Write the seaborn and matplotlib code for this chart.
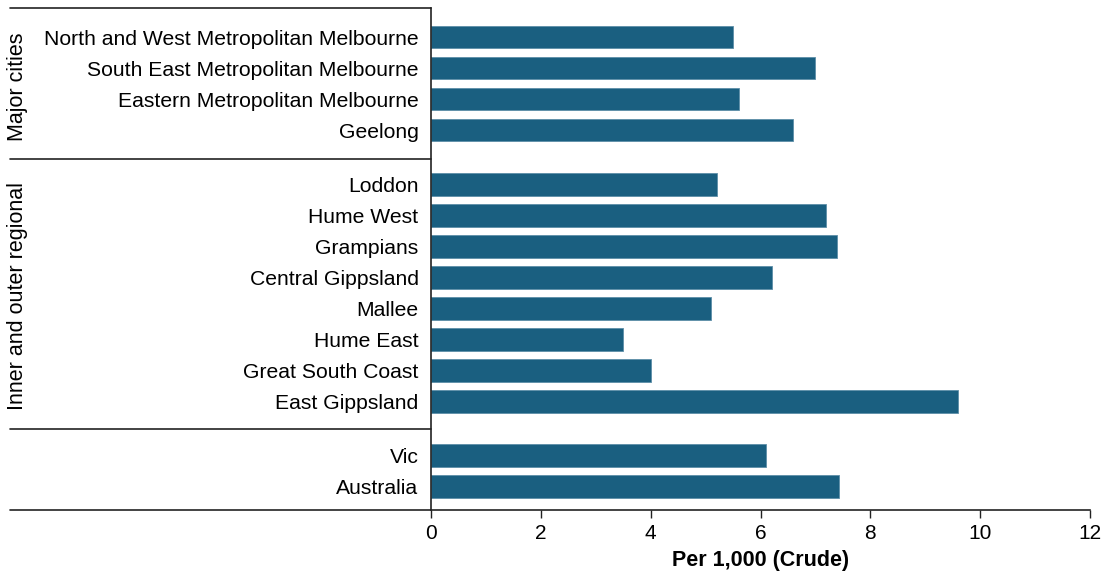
import pandas as pd
import seaborn as sns
import matplotlib.pyplot as plt
import matplotlib.transforms as mtransforms

regions = ["North and West Metropolitan Melbourne", "South East Metropolitan Melbourne",
           "Eastern Metropolitan Melbourne", "Geelong",
           "Loddon", "Hume West", "Grampians", "Central Gippsland", "Mallee",
           "Hume East", "Great South Coast", "East Gippsland",
           "Vic", "Australia"]
rates = [5.5, 7.0, 5.6, 6.6,
         5.2, 7.2, 7.4, 6.2, 5.1, 3.5, 4.0, 9.6,
         6.1, 7.43]
groups = [0, 0, 0, 0,
          1, 1, 1, 1, 1, 1, 1, 1,
          2, 2]
group_labels = ["Major cities", "Inner and outer regional", ""]

# row positions with a gap between groups
df = pd.DataFrame({"region": regions, "rate": rates, "group": groups})
df["pos"] = df.index + df["group"] * 0.75

sns.set_style("white")
plt.rcParams["font.family"] = ["Liberation Sans", "DejaVu Sans"]
plt.rcParams["text.color"] = "black"
plt.rcParams["xtick.color"] = "black"
plt.rcParams["ytick.color"] = "black"
plt.rcParams["axes.labelcolor"] = "black"

fig = plt.figure(figsize=(11.03, 5.74), dpi=100)
ax = fig.add_axes([0.3908, 0.1115, 0.5974, 0.8745])

sns.barplot(data=df, x="rate", y="pos", orient="h", native_scale=True,
            color="#1a5f80", saturation=1, width=0.74,
            edgecolor="#5d8ea8", linewidth=0.6, ax=ax)

ax.set_xlim(0, 12)
ax.set_xticks(range(0, 13, 2))
ax.set_ylim(15.26, -0.935)
ax.set_yticks(df["pos"])
ax.set_yticklabels(df["region"])
ax.tick_params(axis="y", length=0, pad=9, labelsize=15.2)
ax.tick_params(axis="x", length=6, width=1, direction="out", bottom=True,
               color="#222222", labelsize=15, pad=4)
ax.set_ylabel("")
ax.set_xlabel("Per 1,000 (Crude)", fontsize=15.5, fontweight="bold", labelpad=5)

for side in ["top", "right"]:
    ax.spines[side].set_visible(False)
for side in ["left", "bottom"]:
    ax.spines[side].set_color("#222222")
    ax.spines[side].set_linewidth(1.2)

# separator lines into the label area
trans = mtransforms.blended_transform_factory(ax.transAxes, ax.transData)
for y in [-0.935, 3.95, 12.65, 15.26]:
    ax.plot([-0.639, 0], [y, y], transform=trans, color="#222222",
            lw=1.2, clip_on=False)

# group labels
for g, lab in enumerate(group_labels):
    if lab:
        mid = df.loc[df["group"] == g, "pos"].mean()
        ax.text(-0.627, mid + 0.1, lab, transform=trans, rotation=90,
                ha="center", va="center", fontsize=15.5)

fig.savefig("out.png", dpi=100)
